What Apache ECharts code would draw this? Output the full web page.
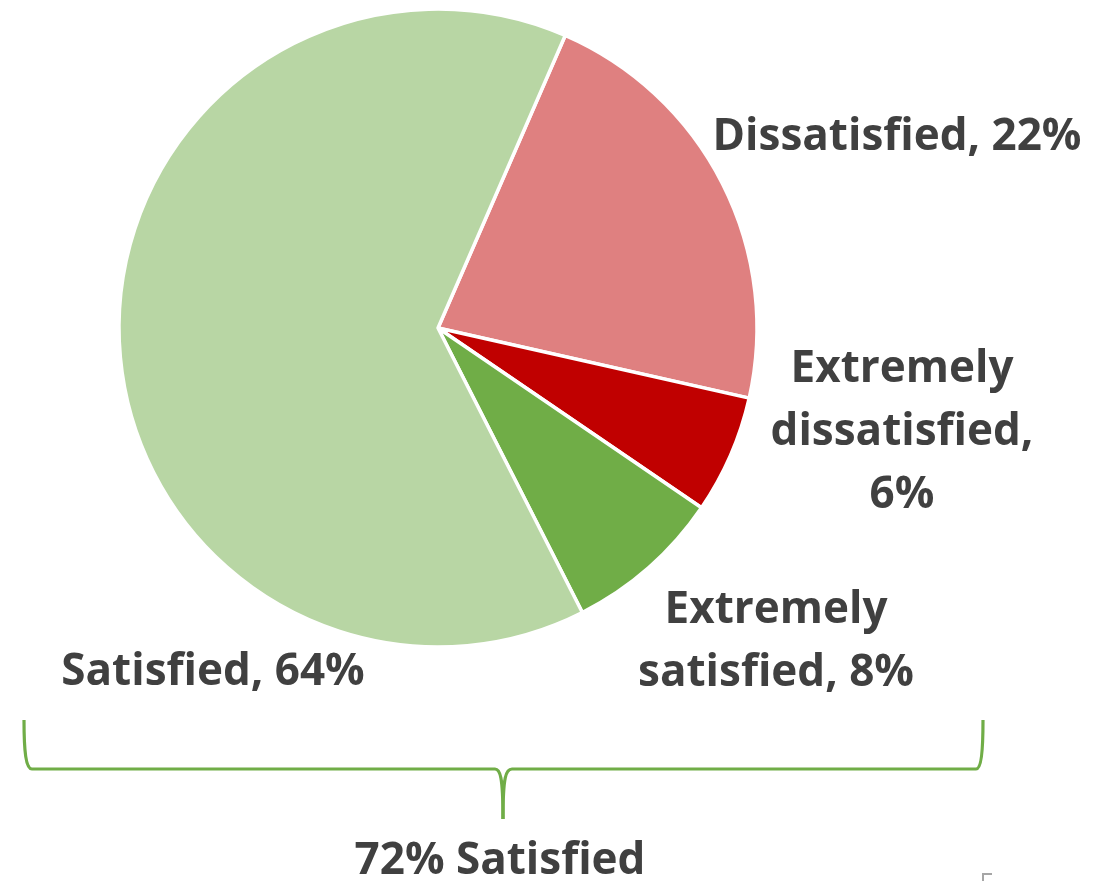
<!DOCTYPE html>
<html>
<head>
<meta charset="utf-8">
<style>
  html, body { margin: 0; padding: 0; background: #ffffff; }
  #chart { width: 1114px; height: 881px; }
</style>
<script src="https://cdn.jsdelivr.net/npm/echarts@6/dist/echarts.min.js"></script>
</head>
<body>
<div id="chart"></div>
<script>
// Survey satisfaction shares (percent), clockwise from the top-right slice
const categories = ['Dissatisfied', 'Extremely dissatisfied', 'Extremely satisfied', 'Satisfied'];
const shares = [22, 6, 8, 64];
const satisfiedGroup = ['Extremely satisfied', 'Satisfied'];

const palette = ['#DF8080', '#C00000', '#70AD47', '#B8D6A4'];
const textColor = '#404040';
const labelFont = '"Open Sans", "Noto Sans", sans-serif';

// Label text with the line breaks used for the longer names
function labelText(name, value) {
  const pct = value + '%';
  if (name === 'Extremely dissatisfied') return 'Extremely\ndissatisfied,\n' + pct;
  if (name === 'Extremely satisfied') return 'Extremely\nsatisfied, ' + pct;
  return name + ', ' + pct;
}

// Where each label block is centred (pixels)
const labelSpots = {
  'Dissatisfied': [897, 137],
  'Extremely dissatisfied': [902, 432],
  'Extremely satisfied': [776, 642],
  'Satisfied': [213, 672]
};

const satisfiedTotal = categories.reduce(
  (sum, c, i) => sum + (satisfiedGroup.includes(c) ? shares[i] : 0), 0);

// Curly brace under the satisfied slices, built from straight and curved strokes
const braceStyle = { stroke: '#70AD47', lineWidth: 3.2, fill: 'none' };
const brace = [
  { type: 'bezierCurve', shape: { x1: 24, y1: 720, cpx1: 24, cpy1: 752, cpx2: 26, cpy2: 769, x2: 32, y2: 769 } },
  { type: 'line', shape: { x1: 32, y1: 769, x2: 495, y2: 769 } },
  { type: 'bezierCurve', shape: { x1: 495, y1: 769, cpx1: 500, cpy1: 769, cpx2: 503, cpy2: 776, x2: 503, y2: 819 } },
  { type: 'bezierCurve', shape: { x1: 503, y1: 819, cpx1: 503, cpy1: 776, cpx2: 506, cpy2: 769, x2: 512, y2: 769 } },
  { type: 'line', shape: { x1: 512, y1: 769, x2: 976, y2: 769 } },
  { type: 'bezierCurve', shape: { x1: 976, y1: 769, cpx1: 981, cpy1: 769, cpx2: 983, cpy2: 752, x2: 983, y2: 720 } }
].map(el => Object.assign(el, { style: braceStyle }));

const chart = echarts.init(document.getElementById('chart'), null, { renderer: 'canvas' });

chart.setOption({
  animation: false,
  backgroundColor: '#ffffff',
  series: [{
    type: 'pie',
    center: [438, 328],
    radius: 319,
    startAngle: 66.5,
    clockwise: true,
    avoidLabelOverlap: false,
    itemStyle: { borderColor: '#ffffff', borderWidth: 3.5 },
    label: {
      show: true,
      position: 'outside',
      formatter: p => labelText(p.name, p.value),
      color: textColor,
      fontFamily: labelFont,
      fontWeight: 'bold',
      fontSize: 44,
      lineHeight: 63,
      align: 'center'
    },
    labelLine: { show: false },
    labelLayout: params => {
      const spot = labelSpots[categories[params.dataIndex]];
      return { x: spot[0], y: spot[1], align: 'center', verticalAlign: 'middle' };
    },
    data: categories.map((c, i) => ({
      name: c,
      value: shares[i],
      itemStyle: { color: palette[i] }
    }))
  }],
  graphic: brace.concat([
    {
      type: 'text',
      x: 500,
      y: 861,
      style: {
        text: satisfiedTotal + '% Satisfied',
        fill: textColor,
        font: 'bold 44px ' + labelFont,
        textAlign: 'center',
        textVerticalAlign: 'middle'
      }
    },
    {
      type: 'polyline',
      shape: { points: [[983, 881], [983, 874], [992, 874]] },
      style: { fill: 'none', stroke: '#a6a6a6', lineWidth: 2 }
    }
  ])
});
</script>
</body>
</html>
